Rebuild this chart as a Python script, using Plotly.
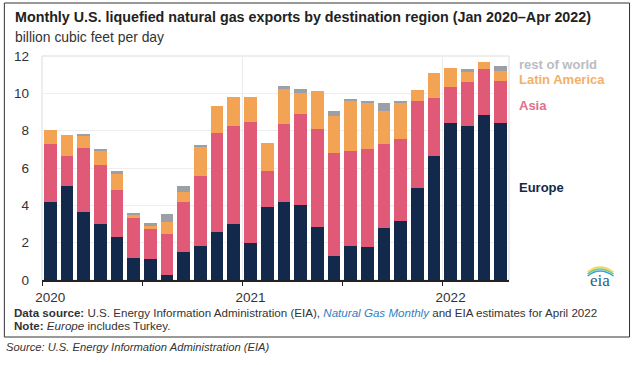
import plotly.graph_objects as go
import numpy as np

months = ["Jan 2020","Feb 2020","Mar 2020","Apr 2020","May 2020","Jun 2020","Jul 2020","Aug 2020",
          "Sep 2020","Oct 2020","Nov 2020","Dec 2020","Jan 2021","Feb 2021","Mar 2021","Apr 2021",
          "May 2021","Jun 2021","Jul 2021","Aug 2021","Sep 2021","Oct 2021","Nov 2021","Dec 2021",
          "Jan 2022","Feb 2022","Mar 2022","Apr 2022"]

europe = [4.16,5.05,3.62,2.98,2.32,1.18,1.12,0.29,1.50,1.82,2.59,3.02,
          1.98,3.93,4.16,4.02,2.86,1.30,1.82,1.75,2.80,3.18,4.95,6.64,
          8.43,8.23,8.82,8.43]
asia = [3.12,1.59,3.43,3.16,2.48,2.12,1.61,2.16,2.66,3.77,5.30,5.21,
        6.47,1.91,4.20,4.85,5.21,5.49,5.07,5.29,4.50,4.37,4.64,3.09,
        1.93,2.36,2.48,2.21]
latin_america = [0.75,1.11,0.68,0.81,0.86,0.18,0.16,0.64,0.54,1.55,1.43,1.55,
                 1.37,1.48,1.85,1.13,2.07,2.00,2.75,2.44,1.75,1.91,0.59,1.37,
                 1.01,0.53,0.39,0.56]
rest_of_world = [0.00,0.00,0.09,0.07,0.20,0.13,0.18,0.43,0.32,0.05,0.00,0.00,
                 0.00,0.00,0.20,0.21,0.00,0.25,0.05,0.11,0.41,0.13,0.00,0.00,
                 0.00,0.17,0.00,0.26]

y_ticks = [0, 2, 4, 6, 8, 10, 12]
year_labels = ["2020", "2021", "2022"]

series = [
    ("Europe", europe, "#13294b", "#13294b"),
    ("Asia", asia, "#e05a78", "#e0708a"),
    ("Latin America", latin_america, "#f2a454", "#f2b06a"),
    ("rest of world", rest_of_world, "#9c9fa6", "#b9bcc2"),
]

x = np.arange(len(months)) + 0.5

fig = go.Figure()
for name, vals, col, _ in series:
    fig.add_trace(go.Bar(x=x, y=vals, name=name, marker=dict(color=col, line=dict(width=0)),
                         hovertext=months, showlegend=False))

# invisible trace to create gridlines at year boundaries
fig.add_trace(go.Scatter(x=[0], y=[0], xaxis="x2", mode="markers",
                         marker=dict(opacity=0), showlegend=False, hoverinfo="skip"))

L, R, T, B = 41.7, 509.3, 56.0, 280.0
W, H = 632, 365

def px(v):
    return (v - L) / (R - L)

def py(v):
    return (B - v) / (B - T)

FONT = "Liberation Sans, Arial, sans-serif"

year_idx = [i for i, m in enumerate(months) if m.startswith("Jan")]

fig.update_layout(
    width=W, height=H,
    margin=dict(l=L, r=W - R, t=T, b=H - B, pad=0),
    paper_bgcolor="white", plot_bgcolor="white",
    barmode="stack", bargap=0.24,
    font=dict(family=FONT, color="#333333"),
    xaxis=dict(range=[0, len(months)], tickvals=[x[i] for i in year_idx], ticktext=year_labels,
               ticks="", showgrid=False, zeroline=False,
               showline=True, linecolor="#222222", linewidth=1.5,
               tickfont=dict(size=13.5, color="#333333"), ticklabelstandoff=4,
               minor=dict(tick0=0, dtick=6, ticks="outside", ticklen=4, tickcolor="#222222",
                          tickwidth=1.2, showgrid=False)),
    xaxis2=dict(range=[0, len(months)], overlaying="x", tickvals=[float(i) for i in year_idx[1:]],
                showticklabels=False, ticks="", showgrid=True, gridcolor="#ececec",
                gridwidth=1, zeroline=False, showline=False),
    yaxis=dict(range=[0, 12], tickvals=y_ticks, showgrid=True, gridcolor="#eeeeee",
               zeroline=False, showline=False, ticks="", ticklabelstandoff=12,
               tickfont=dict(size=13.5, color="#333333")),
    showlegend=False,
)

# light plot frame
fig.add_shape(type="rect", xref="paper", yref="paper", x0=0, x1=1, y0=0, y1=1,
              line=dict(color="#dcdcdc", width=1), layer="below")
# outer black frame
fig.add_shape(type="rect", xref="paper", yref="paper", x0=px(4), x1=px(630), y0=py(337), y1=py(3),
              line=dict(color="#333333", width=1))

anns = []
anns.append(dict(text="<b>Monthly U.S. liquefied natural gas exports by destination region (Jan 2020–Apr 2022)</b>",
                 x=px(13), y=py(17), xanchor="left", yanchor="middle", font=dict(size=14.3, color="#222222")))
anns.append(dict(text="billion cubic feet per day", x=px(13), y=py(37), xanchor="left", yanchor="middle",
                 font=dict(size=13.9, color="#333333")))

legend_y = {"rest of world": 64, "Latin America": 80, "Asia": 105, "Europe": 187}
for name, vals, col, tcol in series:
    anns.append(dict(text="<b>%s</b>" % name, x=px(517), y=py(legend_y[name]), xanchor="left",
                     yanchor="middle", font=dict(size=13, color=tcol)))

anns.append(dict(text="<b>Data source:</b> U.S. Energy Information Administration (EIA), "
                      "<i><span style='color:#2f7fc1'>Natural Gas Monthly</span></i> and EIA estimates for April 2022",
                 x=px(12), y=py(312), xanchor="left", yanchor="middle", font=dict(size=11.6, color="#333333")))
anns.append(dict(text="<b>Note:</b> <i>Europe</i> includes Turkey.",
                 x=px(12), y=py(325), xanchor="left", yanchor="middle", font=dict(size=11.6, color="#333333")))
anns.append(dict(text="<i>Source: U.S. Energy Information Administration (EIA)</i>",
                 x=px(4), y=py(347), xanchor="left", yanchor="middle", font=dict(size=11.2, color="#333333")))
anns.append(dict(text="eia", x=px(600), y=py(280), xanchor="center", yanchor="middle",
                 font=dict(size=17, color="#2a5f84", family="Liberation Serif, DejaVu Serif, serif")))

for a in anns:
    a.update(xref="paper", yref="paper", showarrow=False)
fig.update_layout(annotations=anns)

# small arcs of the eia logo
for dy, c in [(0, "#f5d34a"), (2, "#7cc36b"), (4, "#3aa0d8")]:
    fig.add_shape(type="path", xref="paper", yref="paper",
                  path="M %f %f Q %f %f %f %f" % (px(588), py(272 + dy), px(600), py(262 + dy), px(614), py(272 + dy)),
                  line=dict(color=c, width=1.5))

fig.write_html("out.html", config={"displayModeBar": False},
               post_script="document.body.style.margin='0';document.body.style.overflow='hidden';")
